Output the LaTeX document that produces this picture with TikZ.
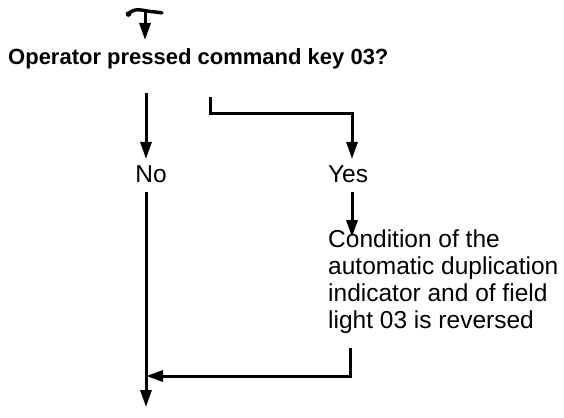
\documentclass[tikz,border=0pt]{standalone}
\usepackage{fontspec}
\setmainfont{Liberation Sans}
\usetikzlibrary{arrows.meta}
\begin{document}
\begin{tikzpicture}[x=1pt,y=-1pt,
  flow/.style={line width=3pt},
  arr/.style={flow,-{Triangle[length=17pt,width=11pt]}},
  body/.style={font=\fontsize{24.5}{27}\selectfont,inner sep=0pt},
  ttl/.style={font=\bfseries\fontsize{22}{26}\selectfont,inner sep=0pt}]
\useasboundingbox (0,0) rectangle (564,417);
% entry symbol
\coordinate (t0) at (145,11);
\coordinate (t1) at (145,40);
\draw[line width=3.4pt,line cap=round] (128,15) .. controls (131,9) and (138,9) .. (147,11) .. controls (153,12) and (158,12) .. (162,13);
\fill (128.5,14) circle (2.8pt);
\draw[arr] (t0) -- (t1);
% question
\node[ttl,anchor=base west] (q) at (8,65) {Operator pressed command key 03?};
% no branch
\coordinate (l0) at (146,93);
\node[body,anchor=base] (no) at (151,182) {No};
\draw[arr,shorten >=6pt] (l0) -- (l0 |- no.north);
\coordinate (lend) at (146,407);
\draw[arr,shorten <=10pt] (lend |- no.south) -- (lend);
% yes branch
\coordinate (b0) at (210,97);
\coordinate (b1) at (352,113);
\node[body,anchor=base] (yes) at (348,182) {Yes};
\draw[arr,shorten >=6pt] (b0) |- (b1) -- (b1 |- yes.north);
\node[body,anchor=base west,align=left] (cond) at (328,328) {Condition of the\\automatic duplication\\indicator and of field\\light 03 is reversed};
\draw[arr,shorten <=10pt,shorten >=-8pt] (b1 |- yes.south) -- (b1 |- cond.north);
% return
\coordinate (r0) at (350,348);
\coordinate (r1) at (350,376);
\draw[arr] (r0) -- (r1) -- (r1 -| lend);
\end{tikzpicture}
\end{document}
